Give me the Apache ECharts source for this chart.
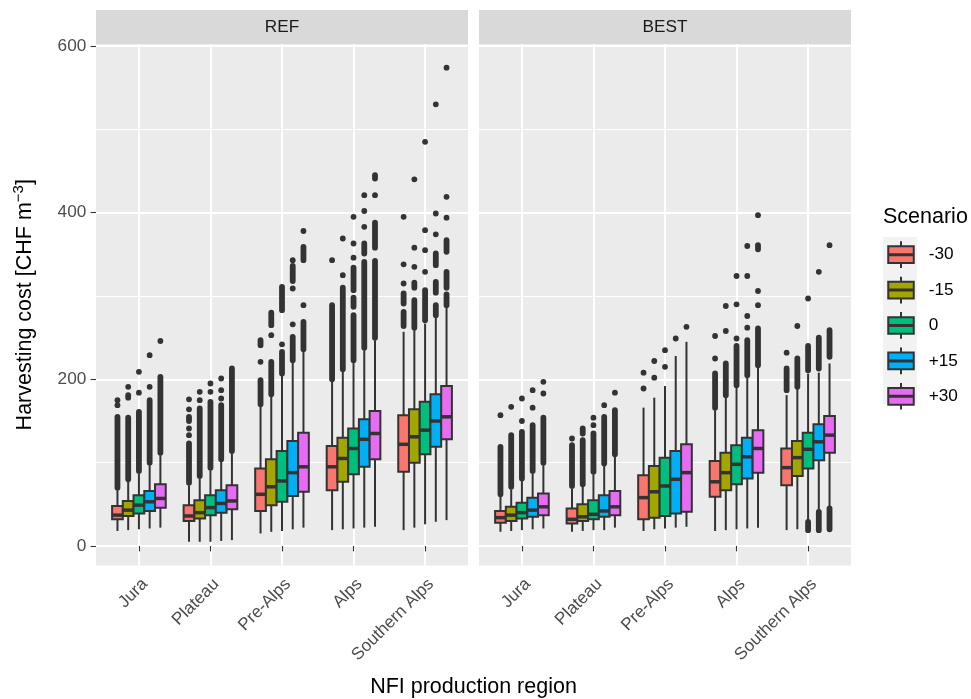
<!DOCTYPE html>
<html>
<head>
<meta charset="utf-8">
<title>Harvesting cost by NFI production region</title>
<script src="https://cdn.jsdelivr.net/npm/echarts@6/dist/echarts.min.js"></script>
<style>
  html, body { margin: 0; padding: 0; background: #fff; }
  #chart { width: 971px; height: 699px; }
</style>
</head>
<body>
<div id="chart"></div>
<script>
var regions = ['Jura', 'Plateau', 'Pre-Alps', 'Alps', 'Southern Alps'];
var scenarios = ['-30', '-15', '0', '+15', '+30'];
var panels = ['REF', 'BEST'];
var majorTicks = [0, 200, 400, 600];
var minorTicks = [100, 300, 500];

// box stats, one row per region: [lower whisker, Q1, median, Q3, upper whisker]
var refM30 = [[18, 32, 37, 48, 67], [5, 30, 36, 49, 73], [15, 42, 62, 93, 167], [19, 67, 95, 120, 197], [19, 89, 122, 157, 257]];
var refM15 = [[19, 36, 43, 54, 77], [5, 33, 40, 55, 81], [17, 49, 71, 104, 179], [20, 77, 105, 130, 209], [22, 100, 131, 164, 259]];
var ref0 = [[20, 39, 49, 61, 87], [5, 37, 46, 61, 91], [18, 53, 78, 114, 204], [21, 86, 117, 141, 220], [26, 110, 139, 173, 267]];
var refP15 = [[21, 42, 53, 66, 97], [6, 40, 51, 67, 101], [20, 60, 88, 126, 220], [22, 95, 128, 152, 235], [29, 119, 150, 182, 274]];
var refP30 = [[22, 46, 57, 74, 109], [7, 44, 54, 73, 111], [22, 65, 95, 136, 233], [23, 104, 135, 162, 247], [31, 128, 155, 192, 286]];

var bestM30 = [[17, 28, 34, 42, 59], [17, 27, 32, 45, 69], [18, 32, 58, 85, 166], [18, 59, 77, 102, 163], [19, 73, 94, 117, 181]];
var bestM15 = [[18, 30, 37, 47, 68], [18, 30, 35, 50, 71], [20, 34, 65, 96, 178], [19, 67, 88, 112, 178], [20, 84, 106, 126, 189]];
var best0 = [[19, 33, 40, 52, 78], [19, 32, 38, 55, 86], [21, 36, 72, 106, 192], [20, 74, 98, 121, 190], [31, 93, 116, 136, 207]];
var bestP15 = [[20, 35, 43, 58, 87], [19, 35, 42, 61, 96], [22, 39, 80, 114, 228], [21, 81, 107, 130, 202], [43, 103, 125, 146, 208]];
var bestP30 = [[21, 37, 47, 63, 97], [22, 37, 47, 66, 107], [23, 41, 88, 122, 245], [22, 88, 117, 139, 214], [47, 112, 133, 156, 219]];

// outliers: [region, scenario, value] or [region, scenario, from, to] where the dots merge into a column
var refOut = [
  [0, 0, 70, 155], [0, 0, 169], [0, 0, 175],
  [0, 1, 80, 154], [0, 1, 178], [0, 1, 181], [0, 1, 191],
  [0, 2, 90, 161], [0, 2, 184], [0, 2, 209],
  [0, 3, 100, 175], [0, 3, 191], [0, 3, 229],
  [0, 4, 112, 203], [0, 4, 246],
  [1, 0, 76, 123], [1, 0, 133], [1, 0, 141], [1, 0, 150, 155], [1, 0, 164], [1, 0, 176],
  [1, 1, 84, 165], [1, 1, 175], [1, 1, 185],
  [1, 2, 94, 173], [1, 2, 185], [1, 2, 195],
  [1, 3, 104, 169], [1, 3, 177], [1, 3, 187], [1, 3, 201],
  [1, 4, 114, 213],
  [2, 0, 170, 199], [2, 0, 221], [2, 0, 241, 247],
  [2, 1, 182, 221], [2, 1, 253], [2, 1, 265, 280],
  [2, 2, 207, 233], [2, 2, 242], [2, 2, 283, 311],
  [2, 3, 223, 251], [2, 3, 266], [2, 3, 309], [2, 3, 318, 336], [2, 3, 343],
  [2, 4, 236, 269], [2, 4, 289], [2, 4, 343, 359], [2, 4, 378],
  [3, 0, 200, 289], [3, 0, 343],
  [3, 1, 212, 310], [3, 1, 325], [3, 1, 369],
  [3, 2, 223, 277], [3, 2, 287, 298], [3, 2, 307, 334], [3, 2, 346], [3, 2, 363], [3, 2, 395],
  [3, 3, 238, 341], [3, 3, 351, 363], [3, 3, 383], [3, 3, 402], [3, 3, 421],
  [3, 4, 250, 342], [3, 4, 358, 388], [3, 4, 421], [3, 4, 441, 445],
  [4, 0, 264, 281], [4, 0, 291, 303], [4, 0, 315], [4, 0, 338], [4, 0, 395],
  [4, 1, 262, 295], [4, 1, 310, 316], [4, 1, 335], [4, 1, 358], [4, 1, 440],
  [4, 2, 271, 307], [4, 2, 329], [4, 2, 355], [4, 2, 379], [4, 2, 485],
  [4, 3, 277, 289], [4, 3, 304, 317], [4, 3, 337, 351], [4, 3, 374], [4, 3, 399], [4, 3, 530],
  [4, 4, 289, 302], [4, 4, 310, 329], [4, 4, 353, 367], [4, 4, 394], [4, 4, 419], [4, 4, 574]
];
var bestOut = [
  [0, 0, 62, 119], [0, 0, 157],
  [0, 1, 71, 133], [0, 1, 167],
  [0, 2, 81, 137], [0, 2, 150], [0, 2, 177],
  [0, 3, 90, 145], [0, 3, 166], [0, 3, 187],
  [0, 4, 100, 154], [0, 4, 183], [0, 4, 197],
  [1, 0, 72, 121], [1, 0, 129],
  [1, 1, 74, 127], [1, 1, 135, 141],
  [1, 2, 89, 135], [1, 2, 145], [1, 2, 154],
  [1, 3, 99, 155], [1, 3, 169],
  [1, 4, 110, 163], [1, 4, 184],
  [2, 0, 189], [2, 0, 208],
  [2, 1, 202], [2, 1, 222],
  [2, 2, 215], [2, 2, 235],
  [2, 3, 249],
  [2, 4, 263],
  [3, 0, 166, 207], [3, 0, 225], [3, 0, 252],
  [3, 1, 181, 219], [3, 1, 258], [3, 1, 288],
  [3, 2, 193, 240], [3, 2, 249], [3, 2, 290], [3, 2, 324],
  [3, 3, 205, 247], [3, 3, 262], [3, 3, 276], [3, 3, 324], [3, 3, 360],
  [3, 4, 217, 261], [3, 4, 289], [3, 4, 306], [3, 4, 356, 361], [3, 4, 397],
  [4, 0, 187, 213], [4, 0, 232],
  [4, 1, 191, 225], [4, 1, 264],
  [4, 2, 19, 29], [4, 2, 211, 240], [4, 2, 297],
  [4, 3, 19, 41], [4, 3, 213, 250], [4, 3, 329],
  [4, 4, 20, 45], [4, 4, 227, 259], [4, 4, 361]
];

var colors = ['#F8766D', '#A3A500', '#00BF7D', '#00B0F6', '#E76BF3'];
var FONT = '"Liberation Sans", Arial, sans-serif';
var DODGE = 0.15;   // dodge step, in category units
var HALF = 0.075;   // half box width

var boxSets = [[refM30, refM15, ref0, refP15, refP30], [bestM30, bestM15, best0, bestP15, bestP30]];
var outSets = [refOut, bestOut];

// shared y range like ggplot: data range expanded by 5%
var allVals = [];
boxSets.forEach(function (set) { set.forEach(function (rows) { rows.forEach(function (r) { allVals = allVals.concat(r); }); }); });
outSets.forEach(function (rows) { rows.forEach(function (r) { allVals = allVals.concat(r.slice(2)); }); });
var vMin = Math.min.apply(null, allVals), vMax = Math.max.apply(null, allVals);
var yMin = vMin - 0.05 * (vMax - vMin), yMax = vMax + 0.05 * (vMax - vMin);

function renderBox(s) {
  return function (params, api) {
    var xc = api.value(0) + (s - 2) * DODGE;
    var lo = api.coord([xc, api.value(1)]);
    var bot = api.coord([xc + HALF, api.value(2)]);
    var med = api.coord([xc, api.value(3)]);
    var top = api.coord([xc - HALF, api.value(4)]);
    var hi = api.coord([xc, api.value(5)]);
    var line = { stroke: '#333333', lineWidth: 2 };
    return {
      type: 'group',
      children: [
        { type: 'line', shape: { x1: hi[0], y1: hi[1], x2: hi[0], y2: top[1] }, style: line },
        { type: 'line', shape: { x1: lo[0], y1: bot[1], x2: lo[0], y2: lo[1] }, style: line },
        { type: 'rect', shape: { x: top[0], y: top[1], width: bot[0] - top[0], height: bot[1] - top[1] },
          style: { fill: api.visual('color'), stroke: '#333333', lineWidth: 2 } },
        { type: 'line', shape: { x1: top[0], y1: med[1], x2: bot[0], y2: med[1] },
          style: { stroke: '#333333', lineWidth: 3.5 } }
      ]
    };
  };
}

function renderOutlier(params, api) {
  var xc = api.value(0) + (api.value(1) - 2) * DODGE;
  var a = api.coord([xc, api.value(2)]);
  var b = api.coord([xc, api.value(3)]);
  if (api.value(2) === api.value(3)) {
    return { type: 'circle', shape: { cx: a[0], cy: a[1], r: 2.9 }, style: { fill: '#333333' } };
  }
  return { type: 'line', shape: { x1: a[0], y1: a[1], x2: b[0], y2: b[1] },
    style: { stroke: '#333333', lineWidth: 5.8, lineCap: 'round' } };
}

var grids = [], xAxes = [], yAxes = [], series = [];
var panelLeft = [96, 479];

panels.forEach(function (name, p) {
  grids.push({
    left: panelLeft[p], top: 44, width: 372, height: 521.5,
    show: true, backgroundColor: '#EBEBEB', borderWidth: 0, outerBoundsMode: 'none'
  });
  xAxes.push({
    type: 'value', gridIndex: p, min: 0.4, max: 5.6,
    axisLine: { show: false },
    axisTick: { show: true, customValues: [1, 2, 3, 4, 5], length: 5.4, lineStyle: { color: '#333333', width: 1.1 } },
    axisLabel: {
      customValues: [1, 2, 3, 4, 5], rotate: 45, margin: 10,
      formatter: function (v) { return '{r|' + (regions[Math.round(v) - 1] || '') + '}'; },
      rich: { r: { fontSize: 17.2, color: '#4D4D4D', fontFamily: FONT, padding: [17, 0, 0, 0] } }
    },
    splitLine: { show: true, lineStyle: { color: '#FFFFFF', width: 2 } }
  });
  // minor grid lines
  yAxes.push({
    type: 'value', gridIndex: p, min: yMin, max: yMax,
    axisLine: { show: false },
    axisTick: { show: false, customValues: minorTicks },
    axisLabel: { show: false, customValues: minorTicks },
    splitLine: { show: true, lineStyle: { color: '#FFFFFF', width: 1 } }
  });
  // major axis
  yAxes.push({
    type: 'value', gridIndex: p, min: yMin, max: yMax, position: 'left',
    axisLine: { show: false },
    axisTick: { show: p === 0, customValues: majorTicks, length: 5.4, lineStyle: { color: '#333333', width: 1.1 } },
    axisLabel: { show: p === 0, customValues: majorTicks, margin: 9.7, fontSize: 17.2, color: '#4D4D4D', fontFamily: FONT },
    splitLine: { show: true, lineStyle: { color: '#FFFFFF', width: 2 } },
    name: p === 0 ? '{t|Harvesting cost [CHF m}{s|\u22123}{t|]}' : '',
    nameLocation: 'middle', nameRotate: 90, nameGap: 56,
    nameTextStyle: {
      rich: {
        t: { fontSize: 21.5, color: '#000000', fontFamily: FONT },
        s: { fontSize: 15, color: '#000000', fontFamily: FONT, padding: [0, 0, 14, 0] }
      }
    }
  });

  boxSets[p].forEach(function (rows, s) {
    series.push({
      type: 'custom', name: scenarios[s], xAxisIndex: p, yAxisIndex: p * 2 + 1,
      itemStyle: { color: colors[s] },
      encode: { x: 0, y: [1, 2, 3, 4, 5] },
      renderItem: renderBox(s),
      data: rows.map(function (r, i) { return [i + 1].concat(r); }),
      z: 2
    });
  });
  series.push({
    type: 'custom', name: 'outliers', xAxisIndex: p, yAxisIndex: p * 2 + 1,
    encode: { x: 0, y: [2, 3] },
    renderItem: renderOutlier,
    data: outSets[p].map(function (r) { return [r[0] + 1, r[1], r[2], r.length > 3 ? r[3] : r[2]]; }),
    z: 3
  });
});

var graphics = [];
panels.forEach(function (name, p) {
  graphics.push({ type: 'rect', z: 0, shape: { x: panelLeft[p], y: 10, width: 372, height: 34 }, style: { fill: '#D9D9D9' } });
  graphics.push({ type: 'text', z: 1, x: panelLeft[p] + 186, y: 27.5,
    style: { text: name, fontSize: 17.2, fontFamily: FONT, fill: '#1A1A1A', align: 'center', verticalAlign: 'middle', textAlign: 'center', textVerticalAlign: 'middle' } });
});
graphics.push({ type: 'text', z: 1, x: 473.5, y: 687,
  style: { text: 'NFI production region', fontSize: 21.5, fontFamily: FONT, fill: '#000000', align: 'center', verticalAlign: 'middle', textAlign: 'center', textVerticalAlign: 'middle' } });
graphics.push({ type: 'text', z: 1, x: 883, y: 217,
  style: { text: 'Scenario', fontSize: 21.5, fontFamily: FONT, fill: '#000000', align: 'left', verticalAlign: 'middle', textAlign: 'left', textVerticalAlign: 'middle' } });
graphics.push({ type: 'rect', z: 0, shape: { x: 883, y: 237, width: 34, height: 167 }, style: { fill: '#F2F2F2' } });

var chart = echarts.init(document.getElementById('chart'), null, { renderer: 'canvas' });
chart.setOption({
  animation: false,
  backgroundColor: '#FFFFFF',
  textStyle: { fontFamily: FONT },
  grid: grids,
  xAxis: xAxes,
  yAxis: yAxes,
  legend: {
    data: scenarios, orient: 'vertical', left: 887.25, top: 240.3, padding: 0,
    itemWidth: 25.5, itemHeight: 26.7, itemGap: 6.7, selectedMode: false,
    icon: 'path://M12.75,0V5.05M0,5.05H25.5V21.75H0ZM0,12.9H25.5V13.9H0ZM12.75,21.75V26.7',
    itemStyle: { borderColor: '#333333', borderWidth: 2 },
    textStyle: { fontSize: 17.2, color: '#000000', fontFamily: FONT, padding: [0, 0, 0, 10] }
  },
  graphic: graphics,
  series: series
});
</script>
</body>
</html>
